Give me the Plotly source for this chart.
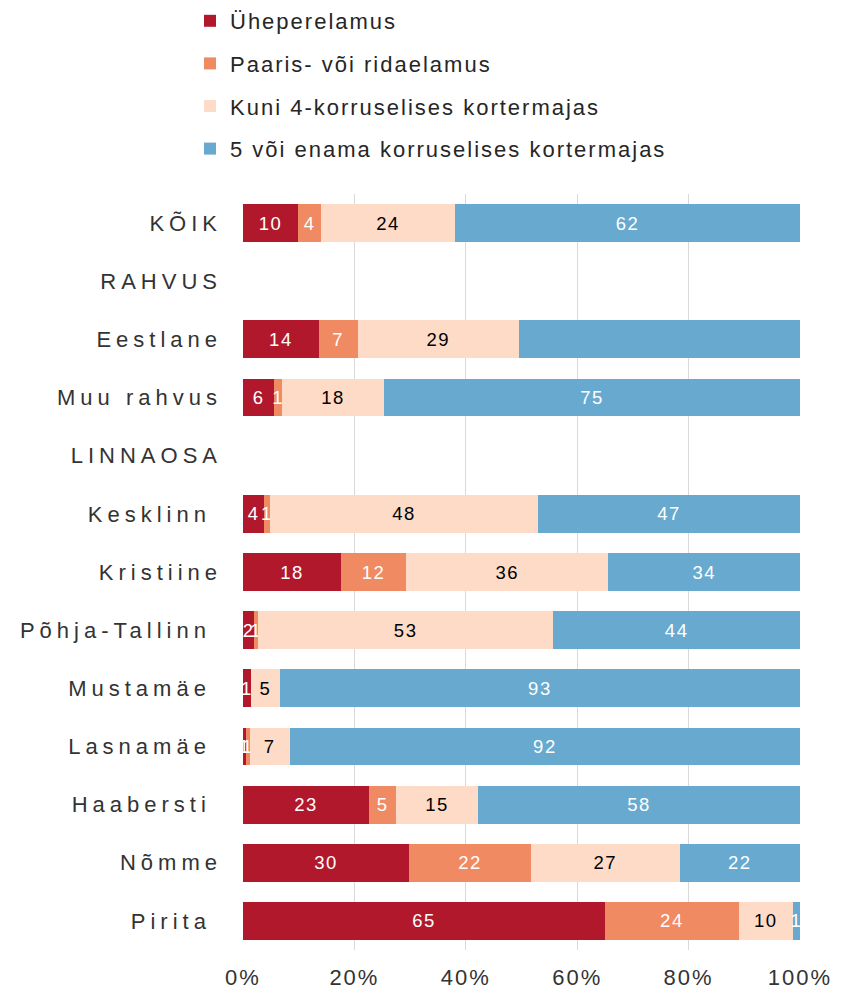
import plotly.graph_objects as go

categories = ["KÕIK", "RAHVUS", "Eestlane", "Muu rahvus", "LINNAOSA", "Kesklinn",
              "Kristiine", "Põhja-Tallinn", "Mustamäe", "Lasnamäe", "Haabersti",
              "Nõmme", "Pirita"]
tick_labels = ["KÕIK", "RAHVUS", "Eestlane", "Muu rahvus", "LINNAOSA", "Kesklinn\u00a0",
               "Kristiine", "Põhja-Tallinn\u00a0", "Mustamäe\u00a0", "Lasnamäe\u00a0",
               "Haabersti\u00a0", "Nõmme", "Pirita\u00a0"]

series_names = ["Üheperelamus", "Paaris- või ridaelamus",
                "Kuni 4-korruselises kortermajas", "5 või enama korruselises kortermajas"]

uhepere = [9.9, None, 13.6, 5.6, None, 3.8, 17.6, 2.0, 1.4, 0.6, 22.6, 29.8, 65.0]
paaris = [4.1, None, 7.0, 1.4, None, 1.0, 11.7, 0.7, 0.0, 0.6, 4.9, 21.9, 24.0]
kuni4 = [24.1, None, 28.9, 18.3, None, 48.2, 36.3, 53.0, 5.2, 7.2, 14.7, 26.7, 9.7]
viis = [61.9, None, 50.6, 74.7, None, 47.0, 34.4, 44.3, 93.4, 91.6, 57.8, 21.6, 1.3]

colors = ["#B2182B", "#EF8A62", "#FDDBC7", "#67A9CF"]
text_colors = ["white", "white", "black", "white"]

FONT = "Liberation Sans, Arial, sans-serif"

fig = go.Figure()
for i, (name, vals) in enumerate(zip(series_names, [uhepere, paaris, kuni4, viis])):
    txt = ["" if (v is None or v < 0.3) else f"{v:.0f}" for v in vals]
    fig.add_trace(go.Bar(
        y=categories, x=vals, name=name, orientation="h",
        marker=dict(color=colors[i], line=dict(width=0)),
        text=txt, textposition="inside", insidetextanchor="middle",
        constraintext="none", textangle=0,
        textfont=dict(family=FONT, size=18.5, color=text_colors[i]),
        legendgroup=f"g{i}", hoverinfo="skip", cliponaxis=False,
    ))

fig.update_layout(
    width=841, height=992,
    barmode="stack", bargap=0.35,
    plot_bgcolor="white", paper_bgcolor="white",
    margin=dict(l=243, r=41, t=194, b=42, autoexpand=False),
    font=dict(family=FONT, size=22, color="#333333"),
    legend=dict(
        orientation="v", xref="container", yref="container",
        x=190 / 841, y=1.004, xanchor="left", yanchor="top",
        font=dict(family=FONT, size=22, color="#262626"),
        tracegroupgap=11, traceorder="grouped",
        bgcolor="rgba(0,0,0,0)",
    ),
    xaxis=dict(
        range=[0, 100], dtick=20, ticksuffix="%",
        showgrid=True, gridcolor="#D9D9D9", gridwidth=1.3,
        zeroline=False, showline=False, ticks="",
        ticklabelstandoff=12,
        tickfont=dict(family=FONT, size=22, color="#333333"),
        fixedrange=True,
    ),
    yaxis=dict(
        type="category", categoryorder="array", categoryarray=categories,
        autorange="reversed", tickvals=categories, ticktext=tick_labels,
        showgrid=False, zeroline=False, showline=False, ticks="",
        ticklabelstandoff=20,
        tickfont=dict(family=FONT, size=22, color="#333333"),
        fixedrange=True,
    ),
)

post = """
document.body.style.margin = '0';
var gd = document.getElementsByClassName('plotly-graph-div')[0];
function ls(){
  gd.querySelectorAll('.ytick text').forEach(function(t){ t.style.letterSpacing = '5px'; });
  gd.querySelectorAll('.xtick text').forEach(function(t){ t.style.letterSpacing = '2px'; });
  gd.querySelectorAll('.legendtext').forEach(function(t){ t.style.letterSpacing = '2px'; });
  gd.querySelectorAll('text.bartext').forEach(function(t){ t.style.letterSpacing = '1.5px'; });
  gd.querySelectorAll('.legend [clip-path]').forEach(function(e){ e.removeAttribute('clip-path'); });
}
ls();
gd.on('plotly_afterplot', ls);
"""

fig.write_html("out.html", post_script=post, config={"displayModeBar": False})
